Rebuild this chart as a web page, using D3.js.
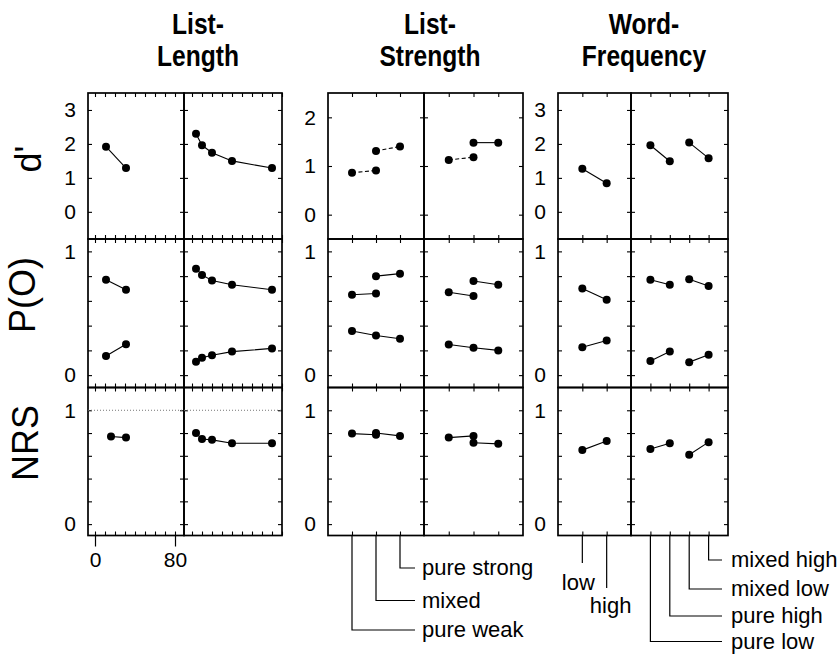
<!DOCTYPE html>
<html>
<head>
<meta charset="utf-8">
<script src="https://cdn.jsdelivr.net/npm/d3@7"></script>
<style>
  body { margin: 0; background: #fff; }
  svg { display: block; font-family: "Liberation Sans", Arial, Helvetica, sans-serif; }
</style>
</head>
<body>
<svg id="chart" width="840" height="654"></svg>
<script>
// ---- data ----
const rowNames = ["d'", "P(O)", "NRS"];
const groupTitles = [["List-", "Length"], ["List-", "Strength"], ["Word-", "Frequency"]];

// List-length: observed lengths (left) and model lengths (right)
const llLengths = [11, 31];
const llNrsLengths = [16, 31];
const llModelLengths = [4, 10, 20, 40, 80];
const llLengthTicks = [0, 80];
const llDprimeL = [1.92, 1.29];
const llDprimeR = [2.30, 1.96, 1.74, 1.50, 1.29];
const llHitsL = [0.77, 0.69];
const llFalseL = [0.154, 0.249];
const llHitsR = [0.86, 0.81, 0.765, 0.73, 0.69];
const llFalseR = [0.108, 0.14, 0.16, 0.19, 0.216];
const llNrsL = [0.77, 0.76];
const llNrsR = [0.80, 0.747, 0.74, 0.71, 0.71];

// List-strength: conditions pure weak (1), mixed (2), pure strong (3)
const lsConditions = ["pure weak", "mixed", "pure strong"];
const lsWeakPos = [1, 2];
const lsStrongPos = [2, 3];
const lsAllPos = [1, 2, 3];
const lsDprimeWeakL = [0.86, 0.91];
const lsDprimeStrongL = [1.31, 1.40];
const lsDprimeWeakR = [1.125, 1.18];
const lsDprimeStrongR = [1.48, 1.48];
const lsHitsWeakL = [0.65, 0.66];
const lsHitsStrongL = [0.80, 0.82];
const lsFalseL = [0.356, 0.32, 0.294];
const lsHitsWeakR = [0.67, 0.64];
const lsHitsStrongR = [0.76, 0.73];
const lsFalseR = [0.248, 0.221, 0.20];
const lsNrsWeakL = [0.795, 0.785];
const lsNrsStrongL = [0.80, 0.775];
const lsNrsWeakR = [0.76, 0.775];
const lsNrsStrongR = [0.715, 0.705];

// Word-frequency: low/high (left); pure low, pure high, mixed low, mixed high (right)
const wfConditionsL = ["low", "high"];
const wfConditionsR = ["pure low", "pure high", "mixed low", "mixed high"];
const wfPosL = [1, 2];
const wfPurePos = [1, 2];
const wfMixedPos = [3, 4];
const wfDprimeL = [1.27, 0.84];
const wfDprimePureR = [1.96, 1.49];
const wfDprimeMixedR = [2.04, 1.58];
const wfHitsL = [0.70, 0.61];
const wfFalseL = [0.225, 0.28];
const wfHitsPureR = [0.77, 0.73];
const wfHitsMixedR = [0.775, 0.72];
const wfFalsePureR = [0.115, 0.19];
const wfFalseMixedR = [0.105, 0.165];
const wfNrsL = [0.65, 0.73];
const wfNrsPureR = [0.66, 0.71];
const wfNrsMixedR = [0.61, 0.72];

// ---- layout ----
const svg = d3.select("#chart");
const rowPx = [[93, 239], [239, 387.5], [387.5, 535.5]];
const yDomainsPO = [-0.1, 1.1];
const yDomainsNRS = [-0.1, 1.2];
const fracTicks = d3.range(0, 1.0001, 0.2);

const groups = [
  { cols: [[88, 184], [184, 282]], xDom: [[-7, 89], [-8, 90]],
    xTicks: [d3.range(0, 81, 10), d3.range(0, 91, 10)], dDom: [-0.8, 3.5], dTicks: [0, 1, 2, 3], titleX: 198 },
  { cols: [[328, 424], [424, 523]], xDom: [[0, 4], [0, 4]],
    xTicks: [lsAllPos, lsAllPos], dDom: [-0.5, 2.5], dTicks: [0, 1, 2], titleX: 430 },
  { cols: [[558, 631], [631, 728]], xDom: [[0, 3], [0, 5]],
    xTicks: [wfPosL, [1, 2, 3, 4]], dDom: [-0.8, 3.5], dTicks: [0, 1, 2, 3], titleX: 644 }
];

// scales per group / column / row
groups.forEach(g => {
  g.x = g.cols.map((c, i) => d3.scaleLinear().domain(g.xDom[i]).range(c));
  g.y = [
    d3.scaleLinear().domain(g.dDom).range([rowPx[0][1], rowPx[0][0]]),
    d3.scaleLinear().domain(yDomainsPO).range([rowPx[1][1], rowPx[1][0]]),
    d3.scaleLinear().domain(yDomainsNRS).range([rowPx[2][1], rowPx[2][0]])
  ];
  g.yTicks = [g.dTicks, fracTicks, fracTicks];
  g.yLabels = [g.dTicks, [0, 1], [0, 1]];
});

const tickLen = 4;
function cleanAxis(sel) {
  sel.select(".domain").remove();
  sel.selectAll(".tick line").attr("stroke", "#000").attr("stroke-width", 1.1);
  sel.selectAll(".tick text").remove();
}

// panels: inward ticks on all four sides, then frame
groups.forEach(g => {
  g.cols.forEach((c, ci) => {
    const x = g.x[ci];
    rowPx.forEach((r, ri) => {
      const y = g.y[ri];
      const p = svg.append("g");
      p.append("g").attr("transform", `translate(${c[0]},0)`)
        .call(d3.axisLeft(y).tickValues(g.yTicks[ri]).tickSize(-tickLen)).call(cleanAxis);
      p.append("g").attr("transform", `translate(${c[1]},0)`)
        .call(d3.axisRight(y).tickValues(g.yTicks[ri]).tickSize(-tickLen)).call(cleanAxis);
      p.append("g").attr("transform", `translate(0,${r[0]})`)
        .call(d3.axisTop(x).tickValues(g.xTicks[ci]).tickSize(-tickLen)).call(cleanAxis);
      p.append("g").attr("transform", `translate(0,${r[1]})`)
        .call(d3.axisBottom(x).tickValues(g.xTicks[ci]).tickSize(-tickLen)).call(cleanAxis);
      p.append("rect")
        .attr("x", c[0]).attr("y", r[0])
        .attr("width", c[1] - c[0]).attr("height", r[1] - r[0])
        .attr("fill", "none").attr("stroke", "#000").attr("stroke-width", 1.7);
    });
  });

  // tick labels on the left edge of each group
  g.y.forEach((y, ri) => {
    const a = svg.append("g").attr("transform", `translate(${g.cols[0][0]},0)`)
      .call(d3.axisLeft(y).tickValues(g.yLabels[ri]).tickSize(0).tickPadding(12).tickFormat(d3.format("d")));
    a.select(".domain").remove();
    a.selectAll("text").attr("font-size", 21).attr("fill", "#000")
      .attr("font-family", "\"Liberation Sans\", Arial, sans-serif");
  });
});

// reference line NRS = 1 in the list-length panels
groups[0].cols.forEach(c => {
  svg.append("line")
    .attr("x1", c[0]).attr("x2", c[1])
    .attr("y1", groups[0].y[2](1)).attr("y2", groups[0].y[2](1))
    .attr("stroke", "#777").attr("stroke-width", 1).attr("stroke-dasharray", "1,2");
});

// list-length axis labels under the observed panel
{
  const a = svg.append("g").attr("transform", `translate(0,${rowPx[2][1]})`)
    .call(d3.axisBottom(groups[0].x[0]).tickValues(llLengthTicks).tickSize(11).tickPadding(6));
  a.select(".domain").remove();
  a.selectAll("line").attr("stroke", "#000").attr("stroke-width", 1.2);
  a.selectAll("text").attr("font-size", 21).attr("fill", "#000")
    .attr("font-family", "\"Liberation Sans\", Arial, sans-serif");
}

// ---- series ----
const series = [
  // list-length
  { g: 0, c: 0, r: 0, xs: llLengths, ys: llDprimeL },
  { g: 0, c: 1, r: 0, xs: llModelLengths, ys: llDprimeR },
  { g: 0, c: 0, r: 1, xs: llLengths, ys: llHitsL },
  { g: 0, c: 0, r: 1, xs: llLengths, ys: llFalseL },
  { g: 0, c: 1, r: 1, xs: llModelLengths, ys: llHitsR },
  { g: 0, c: 1, r: 1, xs: llModelLengths, ys: llFalseR },
  { g: 0, c: 0, r: 2, xs: llNrsLengths, ys: llNrsL },
  { g: 0, c: 1, r: 2, xs: llModelLengths, ys: llNrsR },
  // list-strength
  { g: 1, c: 0, r: 0, xs: lsWeakPos, ys: lsDprimeWeakL, dash: "4,2.5" },
  { g: 1, c: 0, r: 0, xs: lsStrongPos, ys: lsDprimeStrongL, dash: "4,2.5" },
  { g: 1, c: 1, r: 0, xs: lsWeakPos, ys: lsDprimeWeakR, dash: "4,2.5" },
  { g: 1, c: 1, r: 0, xs: lsStrongPos, ys: lsDprimeStrongR },
  { g: 1, c: 0, r: 1, xs: lsWeakPos, ys: lsHitsWeakL },
  { g: 1, c: 0, r: 1, xs: lsStrongPos, ys: lsHitsStrongL },
  { g: 1, c: 0, r: 1, xs: lsAllPos, ys: lsFalseL },
  { g: 1, c: 1, r: 1, xs: lsWeakPos, ys: lsHitsWeakR },
  { g: 1, c: 1, r: 1, xs: lsStrongPos, ys: lsHitsStrongR },
  { g: 1, c: 1, r: 1, xs: lsAllPos, ys: lsFalseR },
  { g: 1, c: 0, r: 2, xs: lsWeakPos, ys: lsNrsWeakL },
  { g: 1, c: 0, r: 2, xs: lsStrongPos, ys: lsNrsStrongL },
  { g: 1, c: 1, r: 2, xs: lsWeakPos, ys: lsNrsWeakR },
  { g: 1, c: 1, r: 2, xs: lsStrongPos, ys: lsNrsStrongR },
  // word-frequency
  { g: 2, c: 0, r: 0, xs: wfPosL, ys: wfDprimeL },
  { g: 2, c: 1, r: 0, xs: wfPurePos, ys: wfDprimePureR },
  { g: 2, c: 1, r: 0, xs: wfMixedPos, ys: wfDprimeMixedR },
  { g: 2, c: 0, r: 1, xs: wfPosL, ys: wfHitsL },
  { g: 2, c: 0, r: 1, xs: wfPosL, ys: wfFalseL },
  { g: 2, c: 1, r: 1, xs: wfPurePos, ys: wfHitsPureR },
  { g: 2, c: 1, r: 1, xs: wfMixedPos, ys: wfHitsMixedR },
  { g: 2, c: 1, r: 1, xs: wfPurePos, ys: wfFalsePureR },
  { g: 2, c: 1, r: 1, xs: wfMixedPos, ys: wfFalseMixedR },
  { g: 2, c: 0, r: 2, xs: wfPosL, ys: wfNrsL },
  { g: 2, c: 1, r: 2, xs: wfPurePos, ys: wfNrsPureR },
  { g: 2, c: 1, r: 2, xs: wfMixedPos, ys: wfNrsMixedR }
];

const marks = svg.append("g");
series.forEach(s => {
  const x = groups[s.g].x[s.c], y = groups[s.g].y[s.r];
  const pts = s.xs.map((v, i) => [v, s.ys[i]]);
  marks.append("path")
    .attr("d", d3.line().x(d => x(d[0])).y(d => y(d[1]))(pts))
    .attr("fill", "none").attr("stroke", "#000").attr("stroke-width", 1.1)
    .attr("stroke-dasharray", s.dash || null);
  marks.selectAll(null).data(pts).enter().append("circle")
    .attr("cx", d => x(d[0])).attr("cy", d => y(d[1])).attr("r", 4).attr("fill", "#000");
});

// ---- condition leaders under the bottom panels ----
const bottomY = rowPx[2][1];
function leader(x, cat, yEnd, xEnd) {
  const px = x(cat);
  const path = xEnd == null ? `M${px},${bottomY}V${yEnd}` : `M${px},${bottomY}V${yEnd}H${xEnd}`;
  svg.append("path").attr("d", path).attr("fill", "none").attr("stroke", "#000").attr("stroke-width", 1.2);
}
const labelFont = 22;
// list-strength
[[3, 568], [2, 600.5], [1, 630]].forEach(([cat, yEnd]) => {
  leader(groups[1].x[0], cat, yEnd, 415);
  svg.append("text").attr("x", 422).attr("y", yEnd + 7).attr("font-size", labelFont)
    .text(lsConditions[cat - 1]);
});
// word-frequency, observed
[[1, 563, 590, -4], [2, 588, 613, 4]].forEach(([cat, yEnd, base, off]) => {
  leader(groups[2].x[0], cat, yEnd, null);
  svg.append("text").attr("x", groups[2].x[0](cat) + off).attr("y", base)
    .attr("text-anchor", "middle").attr("font-size", labelFont).text(wfConditionsL[cat - 1]);
});
// word-frequency, model
[[4, 560], [3, 589], [2, 616], [1, 641.5]].forEach(([cat, yEnd]) => {
  leader(groups[2].x[1], cat, yEnd, 722);
  svg.append("text").attr("x", 731).attr("y", yEnd + 7).attr("font-size", labelFont)
    .text(wfConditionsR[cat - 1]);
});

// ---- row labels ----
[[rowNames[0], 41, 159], [rowNames[1], 35, 295], [rowNames[2], 38, 443]].forEach(([t, bx, cy]) => {
  svg.append("text")
    .attr("transform", `translate(${bx},${cy}) rotate(-90)`)
    .attr("text-anchor", "middle").attr("font-size", 36).text(t);
});

// ---- group titles (condensed bold) ----
groups.forEach((g, i) => {
  groupTitles[i].forEach((line, li) => {
    svg.append("text")
      .attr("transform", `translate(${g.titleX},${li === 0 ? 34 : 66}) scale(0.82,1)`)
      .attr("text-anchor", "middle").attr("font-size", 30).attr("font-weight", "bold")
      .text(line);
  });
});
</script>
</body>
</html>
